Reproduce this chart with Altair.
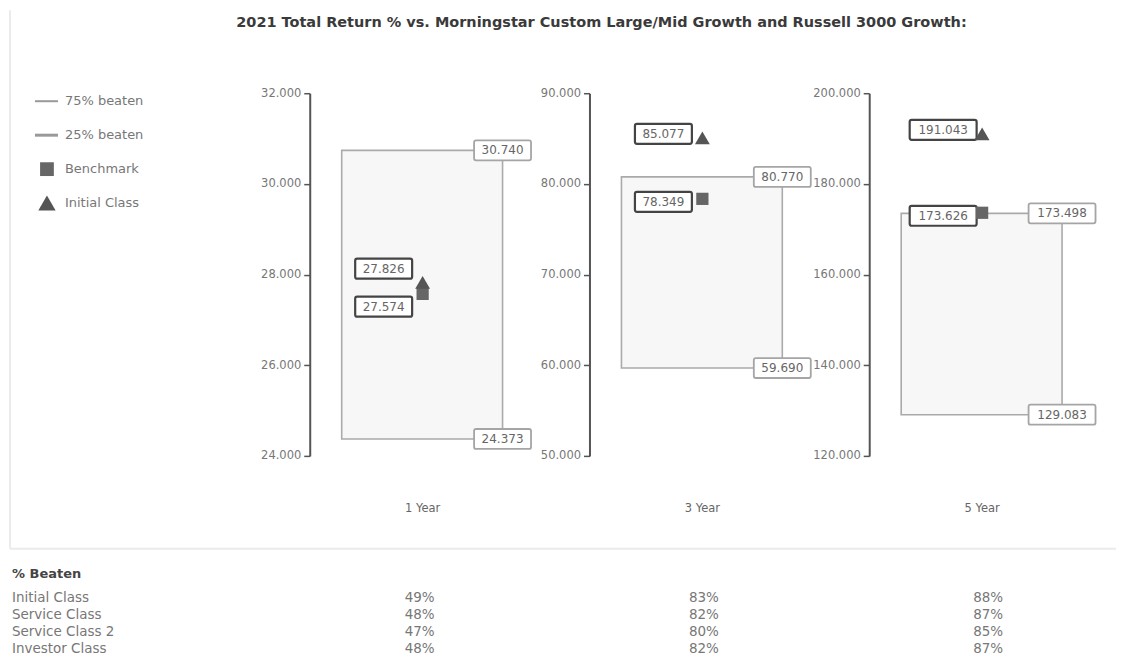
import altair as alt
import pandas as pd

# ---------------- data ----------------
title_text = "2021 Total Return % vs. Morningstar Custom Large/Mid Growth and Russell 3000 Growth:"
periods = ["1 Year", "3 Year", "5 Year"]
upper = [30.740, 80.770, 173.498]
lower = [24.373, 59.690, 129.083]
benchmark = [27.574, 78.349, 173.626]
initial_class = [27.826, 85.077, 191.043]
axis_min = [24, 50, 120]
axis_max = [32, 90, 200]
axis_step = [2, 10, 20]

legend_names = ["75% beaten", "25% beaten", "Benchmark", "Initial Class"]

table_title = "% Beaten"
share_classes = ["Initial Class", "Service Class", "Service Class 2", "Investor Class"]
beaten_1y = [49, 48, 47, 48]
beaten_3y = [83, 82, 80, 82]
beaten_5y = [88, 87, 85, 87]

# ---------------- layout / style ----------------
FONT = "DejaVu Sans"
PW, PH = 225, 363
SP = 55
LW = 245
BX0, BX1 = 32, 193
MX = 113
MLX = 74
TXT = "#666666"


def box_w(v):
    return 10 * len(f"{v:.3f}") - 3


def panel(i):
    lo_ax, hi_ax = axis_min[i], axis_max[i]
    ticks = list(range(lo_ax, hi_ax + 1, axis_step[i]))
    ys = alt.Scale(domain=[lo_ax, hi_ax], nice=False, zero=False)
    yax = alt.Axis(values=ticks, format=".3f", grid=False,
                   domainColor="#555555", domainWidth=2,
                   tickColor="#555555", tickWidth=1.5, tickSize=6,
                   labelColor="#777777", labelFont=FONT, labelFontSize=11.5,
                   labelPadding=3)

    def Y(f):
        return alt.Y(f, scale=ys, axis=yax, title=None)

    ppu = PH / (hi_ax - lo_ax)
    base = pd.DataFrame({"period": [periods[i]], "lo": [lower[i]], "hi": [upper[i]],
                         "bm": [benchmark[i]], "ic": [initial_class[i]]})
    rng = pd.DataFrame({"v": [upper[i], lower[i]]})

    box = alt.Chart(base).mark_rect(fill="#f7f7f7", stroke="#aaaaaa", strokeWidth=1.6).encode(
        x=alt.value(BX0), x2=alt.value(BX1), y=Y("hi:Q"), y2="lo:Q")

    w = box_w(upper[i])
    rng_box = alt.Chart(rng).mark_rect(
        fill="white", stroke="#a5a5a5", strokeWidth=1.8, cornerRadius=2,
        xOffset=-w / 2, x2Offset=w / 2, yOffset=-10, y2Offset=10).encode(
        x=alt.value(BX1), x2=alt.value(BX1), y=Y("v:Q"), y2="v:Q")
    rng_txt = alt.Chart(rng).mark_text(font=FONT, fontSize=12, color=TXT,
                                       align="center", baseline="middle").encode(
        x=alt.value(BX1), y=Y("v:Q"), text=alt.Text("v:Q", format=".3f"))

    # label offsets for marker labels (avoid overlap)
    d = (initial_class[i] - benchmark[i]) * ppu
    tri_off, sq_off = -4.0, 3.0
    sep = d + (sq_off - tri_off)
    if sep < 30:
        extra = (38 - sep) / 2
        tri_off -= extra
        sq_off += extra

    layers = [box, rng_box, rng_txt]
    for field, off, shape, size, col in [("bm", sq_off, "square", 150, "#666666"),
                                         ("ic", tri_off, "triangle-up", 220, "#555555")]:
        v = base[field][0]
        wl = box_w(v)
        lb = alt.Chart(base).mark_rect(
            fill="white", stroke="#444444", strokeWidth=2.2, cornerRadius=2,
            xOffset=-wl / 2, x2Offset=wl / 2, yOffset=off - 10, y2Offset=off + 10).encode(
            x=alt.value(MLX), x2=alt.value(MLX), y=Y(f"{field}:Q"), y2=f"{field}:Q")
        lt = alt.Chart(base).mark_text(font=FONT, fontSize=12, color=TXT,
                                       align="center", baseline="middle", dy=off).encode(
            x=alt.value(MLX), y=Y(f"{field}:Q"), text=alt.Text(f"{field}:Q", format=".3f"))
        mk = alt.Chart(base).mark_point(shape=shape, filled=True, size=size, color=col,
                                        opacity=1).encode(
            x=alt.value(MX), y=Y(f"{field}:Q"))
        layers += [lb, lt, mk]

    xt = alt.Chart(base).mark_text(font=FONT, fontSize=11.5, color=TXT,
                                   align="center", baseline="middle").encode(
        x=alt.value(MX), y=alt.value(PH + 53), text="period:N")
    layers.append(xt)
    return alt.layer(*layers).properties(width=PW, height=PH)


# ---------------- legend / title / frame view ----------------
df_leg = pd.DataFrame({"name": legend_names})
leg_y = alt.Y("name:N", scale=alt.Scale(type="point", domain=legend_names, range=[8, 110],
                                        padding=0), axis=None)

leg_lines = alt.Chart(df_leg).transform_filter(
    alt.FieldOneOfPredicate(field="name", oneOf=legend_names[:2])).mark_rule(color="#999999").encode(
    x=alt.value(25), x2=alt.value(48), y=leg_y,
    strokeWidth=alt.StrokeWidth("name:N", scale=alt.Scale(domain=legend_names[:2], range=[2, 3]),
                                legend=None))
leg_sq = alt.Chart(df_leg).transform_filter(
    alt.FieldEqualPredicate(field="name", equal=legend_names[2])).mark_point(
    shape="square", filled=True, size=190, color="#666666", opacity=1).encode(
    x=alt.value(37), y=leg_y)
leg_tri = alt.Chart(df_leg).transform_filter(
    alt.FieldEqualPredicate(field="name", equal=legend_names[3])).mark_point(
    shape="triangle-up", filled=True, size=300, color="#555555", opacity=1).encode(
    x=alt.value(37), y=leg_y)
leg_txt = alt.Chart(df_leg).mark_text(font=FONT, fontSize=13, color="#777777",
                                      align="left", baseline="middle").encode(
    x=alt.value(55), y=leg_y, text="name:N")

one = pd.DataFrame({"t": [title_text]})
title = alt.Chart(one).mark_text(font=FONT, fontSize=14.5, fontWeight="bold", color="#3a3a3a",
                                 align="center", baseline="middle").encode(
    x=alt.value(592), y=alt.value(-70), text="t:N")
frame_l = alt.Chart(one).mark_rule(color="#ebebeb", strokeWidth=2).encode(
    x=alt.value(0), y=alt.value(-83), y2=alt.value(456))
frame_b = alt.Chart(one).mark_rule(color="#ebebeb", strokeWidth=2).encode(
    x=alt.value(0), x2=alt.value(1107), y=alt.value(456))

legend_view = alt.layer(frame_l, frame_b, title, leg_lines, leg_sq, leg_tri, leg_txt).properties(
    width=LW, height=PH)

top = alt.hconcat(legend_view, panel(0), panel(1), panel(2), spacing=SP, bounds="flush")

# ---------------- table view ----------------
rows = []
for cls, a, b, c in zip(share_classes, beaten_1y, beaten_3y, beaten_5y):
    for per, v in zip(periods, [a, b, c]):
        rows.append({"cls": cls, "period": per, "pct": v})
df_tab = pd.DataFrame(rows)
df_cls = pd.DataFrame({"cls": share_classes})
tab_y = alt.Y("cls:N", scale=alt.Scale(type="point", domain=share_classes, range=[37, 88],
                                       padding=0), axis=None)

tab_head = alt.Chart(pd.DataFrame({"t": [table_title]})).mark_text(
    font=FONT, fontSize=13, fontWeight="bold", color="#444444", align="left", baseline="middle").encode(
    x=alt.value(2), y=alt.value(13), text="t:N")
tab_cls = alt.Chart(df_cls).mark_text(font=FONT, fontSize=13.5, color="#777777",
                                      align="left", baseline="middle").encode(
    x=alt.value(2), y=tab_y, text="cls:N")
tab_val = alt.Chart(df_tab).transform_calculate(lbl="datum.pct + '%'").mark_text(
    font=FONT, fontSize=13.5, color="#777777", align="center", baseline="middle").encode(
    x=alt.X("period:N", scale=alt.Scale(type="point", domain=periods, range=[410, 979], padding=0),
            axis=None),
    y=tab_y, text="lbl:N")
table = alt.layer(tab_head, tab_cls, tab_val).properties(width=1100, height=95)

# the flush hconcat above reports no height to the vconcat, so the spacing carries it
chart = alt.vconcat(top, table, spacing=PH + 105, bounds="flush").properties(
    padding={"left": 1, "top": 1, "right": 0, "bottom": 0}
).configure_view(stroke=None)

chart.save("out.html", embed_options={"renderer": "svg", "actions": False})
